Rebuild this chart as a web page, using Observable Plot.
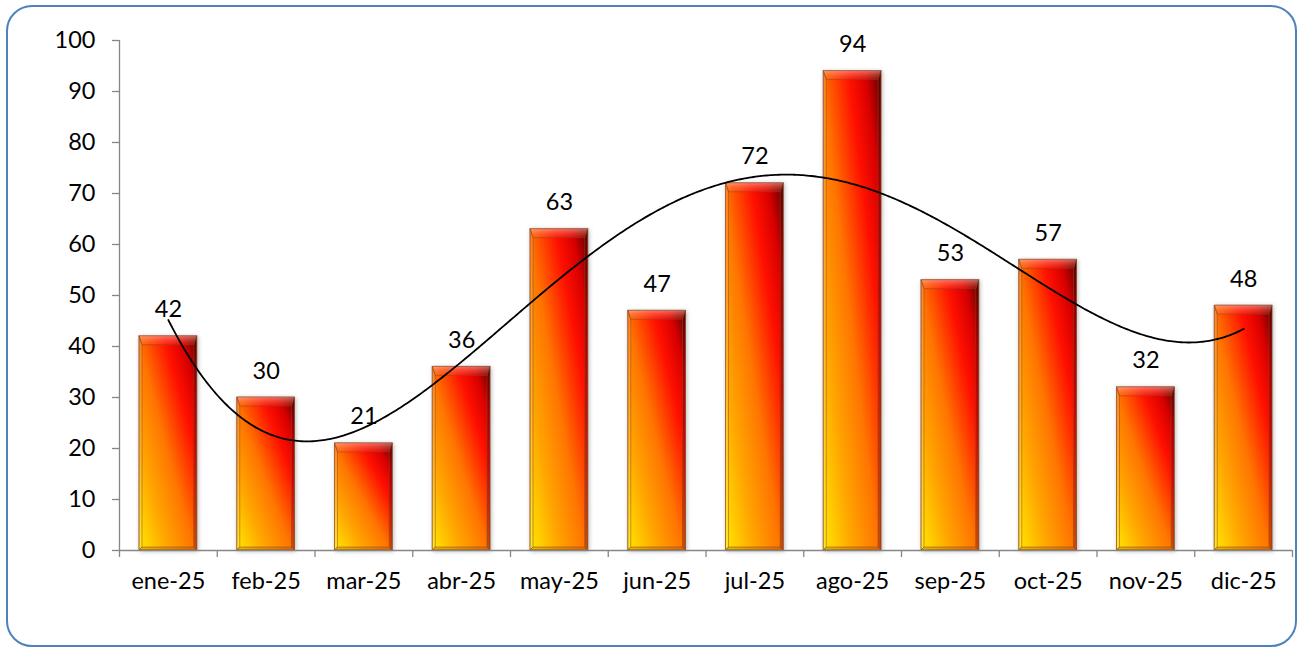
<!DOCTYPE html>
<html><head><meta charset="utf-8">
<script src="https://cdn.jsdelivr.net/npm/d3@7"></script>
<script src="https://cdn.jsdelivr.net/npm/@observablehq/plot@0.6"></script>
<style>
html,body{margin:0;padding:0;background:#fff;}
#wrap{position:relative;width:1300px;height:647px;overflow:hidden;}
#wrap svg{position:absolute;left:0;top:0;}
#frame{position:absolute;left:6px;top:5px;width:1291px;height:642px;border:2px solid #4F81BD;border-radius:26px;box-sizing:border-box;pointer-events:none;}
</style></head><body><div id="wrap"><div id="frame"></div></div>
<script>
const months = ["ene-25","feb-25","mar-25","abr-25","may-25","jun-25","jul-25","ago-25","sep-25","oct-25","nov-25","dic-25"];
const values = [42,30,21,36,63,47,72,94,53,57,32,48];
const yTicks = [0,10,20,30,40,50,60,70,80,90,100];

const data = months.map((m, i) => ({i, m, v: values[i]}));

// Excel-style polynomial trendline (order 4), fitted to the data with x = 1..n
function polyfit(xs, ys, deg) {
  const n = deg + 1;
  const A = Array.from({length: n}, () => Array(n + 1).fill(0));
  for (let k = 0; k < xs.length; k++) {
    for (let r = 0; r < n; r++) {
      for (let c = 0; c < n; c++) A[r][c] += Math.pow(xs[k], r + c);
      A[r][n] += ys[k] * Math.pow(xs[k], r);
    }
  }
  for (let c = 0; c < n; c++) {
    let p = c;
    for (let r = c + 1; r < n; r++) if (Math.abs(A[r][c]) > Math.abs(A[p][c])) p = r;
    [A[c], A[p]] = [A[p], A[c]];
    for (let r = 0; r < n; r++) {
      if (r === c) continue;
      const f = A[r][c] / A[c][c];
      for (let k = c; k <= n; k++) A[r][k] -= f * A[c][k];
    }
  }
  return A.map((row, r) => row[n] / row[r]);
}
const coef = polyfit(values.map((v, i) => i + 1), values, 4);
const evalPoly = x => coef.reduce((s, c, k) => s + c * Math.pow(x, k), 0);
const trend = d3.range(0, 501).map(k => {
  const xe = 1 + k * (values.length - 1) / 500;
  return {x: xe - 0.5, y: evalPoly(xe)};
});

const defs = () => {
  const g = document.createElementNS("http://www.w3.org/2000/svg", "defs");
  g.innerHTML = `
    <linearGradient id="barGrad" x1="0" y1="1" x2="1" y2="0">
      <stop offset="0" stop-color="#FFE800"/>
      <stop offset="0.24" stop-color="#FFA800"/>
      <stop offset="0.48" stop-color="#FF7400"/>
      <stop offset="0.72" stop-color="#FF1000"/>
      <stop offset="0.86" stop-color="#D80000"/>
      <stop offset="1" stop-color="#5A0000"/>
    </linearGradient>
    <linearGradient id="bevelTop" x1="0" y1="0" x2="0" y2="1">
      <stop offset="0" stop-color="#FFC8B8" stop-opacity="0.55"/>
      <stop offset="1" stop-color="#FF7050" stop-opacity="0.15"/>
    </linearGradient>`;
  return g;
};

function bevel(index, scales, values, dimensions, context, next) {
  const g = next(index, scales, values, dimensions, context);
  const ns = "http://www.w3.org/2000/svg";
  g.style.filter = "drop-shadow(1px 1px 2px rgba(0,0,0,0.28))";
  for (const r of Array.from(g.querySelectorAll("rect"))) {
    const x = +r.getAttribute("x"), y = +r.getAttribute("y");
    const w = +r.getAttribute("width"), h = +r.getAttribute("height");
    const b = 9, s = 3;
    const polys = [
      [`${x},${y} ${x+w},${y} ${x+w-s},${y+b} ${x+s},${y+b}`, "url(#bevelTop)"],
      [`${x+w},${y} ${x+w},${y+h} ${x+w-s},${y+h-s} ${x+w-s},${y+b}`, "rgba(70,0,0,0.3)"],
      [`${x},${y} ${x+s},${y+b} ${x+s},${y+h-s} ${x},${y+h}`, "rgba(255,255,200,0.15)"],
      [`${x},${y+h} ${x+s},${y+h-s} ${x+w-s},${y+h-s} ${x+w},${y+h}`, "rgba(160,80,0,0.3)"]
    ];
    for (const [pts, fill] of polys) {
      const p = document.createElementNS(ns, "polygon");
      p.setAttribute("points", pts);
      p.setAttribute("fill", fill);
      g.appendChild(p);
    }
  }
  return g;
}

const grey = "#868686";
const fs = 23.5;
const chart = Plot.plot({
  width: 1300,
  height: 647,
  marginLeft: 119,
  marginRight: 8,
  marginTop: 40,
  marginBottom: 97,
  style: {fontFamily: "Lato, 'Open Sans', sans-serif", fontSize: fs + "px", color: "#000", background: "transparent"},
  x: {domain: [0, 12]},
  y: {domain: [0, 100]},
  marks: [
    defs,
    Plot.rectY(data, {x1: d => d.i, x2: d => d.i + 1, y1: 0, y2: "v", insetLeft: 20, insetRight: 20,
      fill: "url(#barGrad)", stroke: "rgba(140,70,40,0.5)", strokeWidth: 1, render: bevel}),
    Plot.ruleY([0], {stroke: grey, strokeWidth: 1.3}),
    Plot.ruleX([0], {y1: 0, y2: 100, stroke: grey, strokeWidth: 1.3}),
    Plot.axisY(yTicks, {tickSize: 7, tickPadding: 17, stroke: grey, fill: "#000", fontSize: fs, label: null, strokeWidth: 1.3}),
    Plot.axisX(d3.range(13), {tickSize: 7, tickFormat: () => "", stroke: grey, label: null, strokeWidth: 1.3}),
    Plot.axisX(d3.range(12).map(i => i + 0.5), {tickSize: 0, tickPadding: 22, tickFormat: d => months[Math.floor(d)], fill: "#000", fontSize: fs, label: null}),
    Plot.line(trend, {x: "x", y: "y", stroke: "#000", strokeWidth: 1.8, curve: "linear"}),
    Plot.text(data, {x: d => d.i + 0.5, y: "v", text: d => String(d.v), dy: -19, lineAnchor: "bottom", fill: "#000", fontSize: fs})
  ]
});
document.getElementById("wrap").insertBefore(chart, document.getElementById("frame"));
</script>
</body></html>
